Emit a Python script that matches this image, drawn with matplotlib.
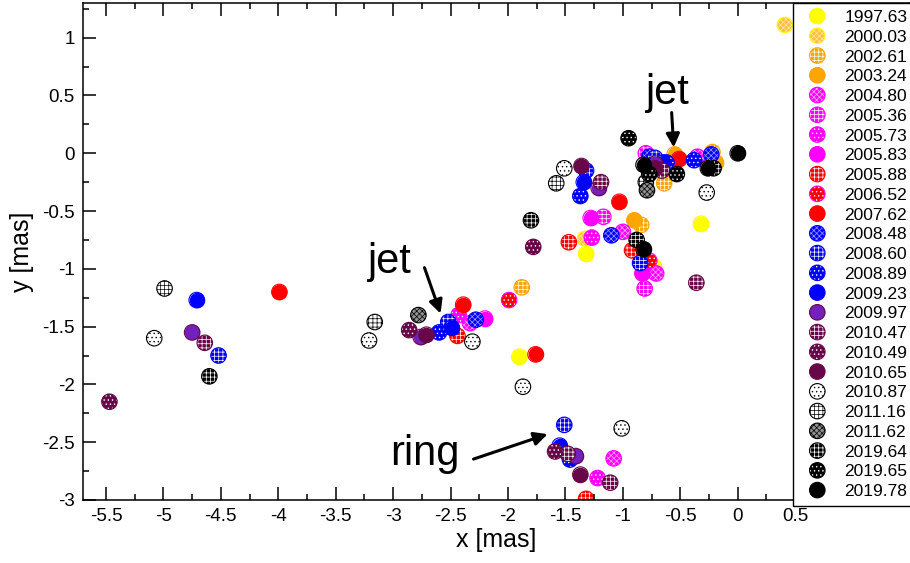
import numpy as np
import matplotlib as mpl
import matplotlib.pyplot as plt
import matplotlib.patches as mpatches
from matplotlib.ticker import FixedLocator, FormatStrFormatter, MultipleLocator

mpl.rcParams['font.family'] = ['Liberation Sans', 'DejaVu Sans']
mpl.rcParams['axes.unicode_minus'] = False
mpl.rcParams['hatch.linewidth'] = 0.5

# component positions per epoch (x, y in mas)
epochs = ['1997.63', '2000.03', '2002.61', '2003.24', '2004.80', '2005.36',
          '2005.73', '2005.83', '2005.88', '2006.52', '2007.62', '2008.48',
          '2008.60', '2008.89', '2009.23', '2009.97', '2010.47', '2010.49',
          '2010.65', '2010.87', '2011.16', '2011.62', '2019.64', '2019.65',
          '2019.78']

x_1997_63 = [-1.90, -1.32, -0.32, -0.73]
y_1997_63 = [-1.76, -0.87, -0.61, -0.98]
x_2000_03 = [0.41, -1.33]
y_2000_03 = [1.11, -0.74]
x_2002_61 = [-1.88, -0.84, -0.64, -0.22]
y_2002_61 = [-1.16, -0.62, -0.26, 0.01]
x_2003_24 = [-0.90, -0.55, -0.19]
y_2003_24 = [-0.58, -0.01, -0.08]
x_2004_80 = [-2.33, -1.00, -0.71, -1.08, -0.35]
y_2004_80 = [-1.47, -0.68, -1.04, -2.64, -0.03]
x_2005_36 = [-1.17, -0.81, -0.80]
y_2005_36 = [-0.55, -1.17, 0.00]
x_2005_73 = [-2.43, -1.27, -1.22]
y_2005_73 = [-1.40, -0.73, -2.81]
x_2005_83 = [-2.20, -1.28, -0.83]
y_2005_83 = [-1.43, -0.56, -1.04]
x_2005_88 = [-2.44, -1.47, -1.32, -0.92]
y_2005_88 = [-1.58, -0.77, -2.99, -0.84]
x_2006_52 = [-1.99, -0.77]
y_2006_52 = [-1.27, -0.93]
x_2007_62 = [-3.99, -2.39, -1.76, -1.03, -0.51]
y_2007_62 = [-1.20, -1.31, -1.74, -0.42, -0.05]
x_2008_48 = [-2.28, -1.10, -0.77, -0.23]
y_2008_48 = [-1.44, -0.71, -0.03, -0.01]
x_2008_60 = [-4.52, -2.52, -1.32, -0.85, -0.72, -1.51]
y_2008_60 = [-1.75, -1.46, -0.15, -0.95, -0.04, -2.35]
x_2008_89 = [-2.60, -1.37, -0.62, -0.38, -1.46]
y_2008_89 = [-1.55, -0.37, -0.08, -0.06, -2.65]
x_2009_23 = [-4.71, -2.49, -1.34, -0.65, -1.55]
y_2009_23 = [-1.27, -1.51, -0.25, -0.08, -2.53]
x_2009_97 = [-4.75, -2.76, -1.21, -1.41, -0.72]
y_2009_97 = [-1.55, -1.59, -0.30, -2.62, -0.09]
x_2010_47 = [-4.64, -1.19, -0.36, -1.48, -1.11, -0.66]
y_2010_47 = [-1.64, -0.25, -1.12, -2.60, -2.85, -0.15]
x_2010_49 = [-5.47, -2.86, -1.78, -1.59]
y_2010_49 = [-2.15, -1.53, -0.81, -2.58]
x_2010_65 = [-2.71, -1.36, -0.72, -1.37]
y_2010_65 = [-1.57, -0.11, -0.13, -2.78]
x_2010_87 = [-5.08, -3.21, -2.31, -1.87, -1.51, -0.27, -1.01]
y_2010_87 = [-1.60, -1.62, -1.63, -2.02, -0.13, -0.34, -2.38]
x_2011_16 = [-4.99, -3.16, -1.58, -0.80]
y_2011_16 = [-1.17, -1.46, -0.26, -0.25]
x_2011_62 = [-2.78, -0.79]
y_2011_62 = [-1.40, -0.32]
x_2019_64 = [-4.60, -1.80, -0.88, -0.21]
y_2019_64 = [-1.93, -0.58, -0.75, -0.13]
x_2019_65 = [-0.95, -0.77, -0.53]
y_2019_65 = [0.13, -0.18, -0.18]
x_2019_78 = [0.00, -0.82, -0.26, -0.82]
y_2019_78 = [0.00, -0.10, -0.13, -0.83]

xs = [x_1997_63, x_2000_03, x_2002_61, x_2003_24, x_2004_80, x_2005_36,
      x_2005_73, x_2005_83, x_2005_88, x_2006_52, x_2007_62, x_2008_48,
      x_2008_60, x_2008_89, x_2009_23, x_2009_97, x_2010_47, x_2010_49,
      x_2010_65, x_2010_87, x_2011_16, x_2011_62, x_2019_64, x_2019_65,
      x_2019_78]
ys = [y_1997_63, y_2000_03, y_2002_61, y_2003_24, y_2004_80, y_2005_36,
      y_2005_73, y_2005_83, y_2005_88, y_2006_52, y_2007_62, y_2008_48,
      y_2008_60, y_2008_89, y_2009_23, y_2009_97, y_2010_47, y_2010_49,
      y_2010_65, y_2010_87, y_2011_16, y_2011_62, y_2019_64, y_2019_65,
      y_2019_78]

x_major = [-5.5, -5, -4.5, -4, -3.5, -3, -2.5, -2, -1.5, -1, -0.5, 0, 0.5]
y_major = [-3, -2.5, -2, -1.5, -1, -0.5, 0, 0.5, 1]

# symbol styles: face, hatch, hatch colour, outline colour
yellow, orange, magenta = '#ffff00', '#ffa500', '#ff00ff'
red, blue, indigo, maroon = '#ff0000', '#0000ff', '#7221bc', '#670748'
CHK, GRID, DOTS = 'xxxxxx', '++++', '....'
styles = [
    (yellow, None, 'w', yellow),
    ('#ffc040', CHK, '#ffe8a0', yellow),
    (orange, GRID, 'w', orange),
    (orange, None, 'w', orange),
    (magenta, CHK, '#ffb0ff', magenta),
    (magenta, GRID, 'w', magenta),
    (magenta, DOTS, 'w', magenta),
    (magenta, None, 'w', magenta),
    (red, GRID, 'w', red),
    (red, DOTS, 'w', magenta),
    (red, None, 'w', red),
    (blue, CHK, '#a0a0ff', blue),
    (blue, GRID, 'w', blue),
    (blue, DOTS, 'w', blue),
    (blue, None, 'w', blue),
    (indigo, None, 'w', maroon),
    (maroon, GRID, 'w', maroon),
    (maroon, DOTS, 'w', maroon),
    (maroon, None, 'w', maroon),
    ('w', DOTS, 'k', 'k'),
    ('w', GRID, 'k', 'k'),
    ('#909090', CHK, 'k', 'k'),
    ('k', GRID, 'w', 'k'),
    ('k', DOTS, 'w', 'k'),
    ('k', None, 'w', 'k'),
]

MS = 125  # marker area, pt^2


class DotHandler:
    def __init__(self, st):
        self.st = st

    def legend_artist(self, legend, orig_handle, fontsize, handlebox):
        face, hatch, hcol, edge = self.st
        cx = handlebox.xdescent + handlebox.width / 2
        cy = handlebox.ydescent + handlebox.height / 2
        r = np.sqrt(MS) / 2
        tr = handlebox.get_transform()
        fill = mpatches.Circle((cx, cy), r, facecolor=face, edgecolor=hcol,
                               lw=0, hatch=hatch, transform=tr)
        ring = mpatches.Circle((cx, cy), r, facecolor='none', edgecolor=edge,
                               lw=0.8, transform=tr)
        handlebox.add_artist(fill)
        handlebox.add_artist(ring)
        return fill


fig = plt.figure(figsize=(9.10, 5.63), dpi=100)
ax = fig.add_axes([83 / 910, 1 - 500 / 563, 827 / 910, 497 / 563])

handles = []
hmap = {}
for i in range(len(epochs)):
    face, hatch, hcol, edge = styles[i]
    sc = ax.scatter(xs[i], ys[i], s=MS, marker='o', facecolors=face,
                    edgecolors=hcol, linewidths=0, hatch=hatch)
    ax.scatter(xs[i], ys[i], s=MS, marker='o', facecolors='none',
               edgecolors=edge, linewidths=0.8)
    handles.append(sc)
    hmap[sc] = DotHandler(styles[i])

ax.set_xlim(-5.7, 1.5)
ax.set_ylim(-3, 1.3)
ax.xaxis.set_major_locator(FixedLocator(x_major))
ax.xaxis.set_minor_locator(FixedLocator(np.arange(-5.5, 0.8, 0.25)))
ax.yaxis.set_major_locator(FixedLocator(y_major))
ax.yaxis.set_minor_locator(MultipleLocator(0.25))
ax.xaxis.set_major_formatter(FormatStrFormatter('%g'))
ax.yaxis.set_major_formatter(FormatStrFormatter('%g'))
ax.tick_params(which='both', direction='in', top=True, right=True, width=1.1)
ax.tick_params(which='major', length=9.5, labelsize=13.5, pad=6)
ax.tick_params(which='minor', length=4.5)
for sp in ax.spines.values():
    sp.set_linewidth(1.1)

ax.set_xlabel('x [mas]', fontsize=18, labelpad=2)
ax.set_ylabel('y [mas]', fontsize=18, labelpad=6)

arrow = dict(arrowstyle='-|>', color='k', lw=2.2, mutation_scale=20,
             shrinkA=0, shrinkB=0)
ax.annotate('', xy=(-0.557, 0.05), xytext=(-0.575, 0.352), arrowprops=arrow)
ax.text(-0.62, 0.43, 'jet', fontsize=30, ha='center', va='baseline')
ax.annotate('', xy=(-2.587, -1.387), xytext=(-2.727, -0.99), arrowprops=arrow)
ax.text(-3.04, -1.04, 'jet', fontsize=30, ha='center', va='baseline')
ax.annotate('', xy=(-1.655, -2.43), xytext=(-2.30, -2.646), arrowprops=arrow)
ax.text(-2.72, -2.70, 'ring', fontsize=30, ha='center', va='baseline')

leg = ax.legend(handles, epochs, handler_map=hmap, loc='upper left',
                bbox_to_anchor=(710 / 827, 1.0), borderaxespad=0,
                fontsize=12.5, labelspacing=0.265, handlelength=2.0,
                handletextpad=0.55, borderpad=0.4, fancybox=False,
                framealpha=1, edgecolor='k')
leg.get_frame().set_linewidth(1.0)

fig.savefig('out.png', dpi=100)
